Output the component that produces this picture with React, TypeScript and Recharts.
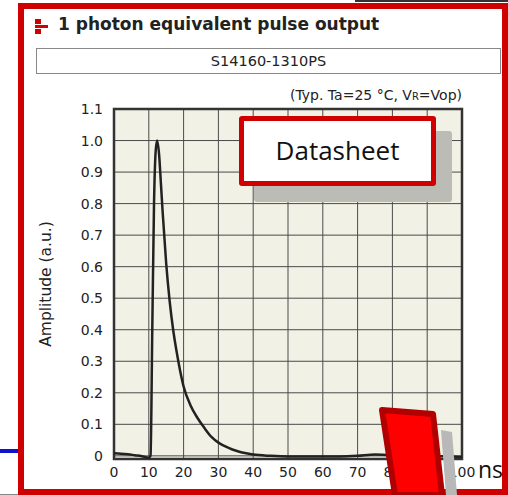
import React from "react";
import { LineChart, Line, XAxis, YAxis, CartesianGrid, ReferenceArea } from "recharts";

// pulse shape (ns, a.u.)
const timeNs = [0, 2, 4, 6, 8, 10, 10.5, 11, 11.5, 12, 12.4, 13, 13.5, 14, 15, 16, 17, 18, 19, 20, 22, 24, 26, 28, 30, 32, 34, 36, 38, 40, 45, 50, 60, 65, 70, 75, 80, 85, 90, 95, 100];
const amplitude = [0.008, 0.007, 0.005, 0.002, -0.001, -0.006, 0.0, 0.4, 0.8, 0.97, 1.0, 0.95, 0.86, 0.77, 0.61, 0.49, 0.4, 0.33, 0.27, 0.22, 0.16, 0.12, 0.088, 0.06, 0.042, 0.03, 0.02, 0.013, 0.008, 0.004, 0.0, -0.002, -0.002, -0.002, 0.0, 0.004, 0.002, -0.002, -0.002, -0.001, -0.004];
const xTicks = [0, 10, 20, 30, 40, 50, 60, 70, 80, 90, 100];
const yTicks = [0, 0.1, 0.2, 0.3, 0.4, 0.5, 0.6, 0.7, 0.8, 0.9, 1.0, 1.1];

const data = timeNs.map((t, i) => ({ t, a: amplitude[i] }));

const FONT = "'DejaVu Sans', Verdana, sans-serif";
const TICK = { fontSize: 14, fill: "#222", fontFamily: FONT };

export default function App() {
  return (
    <div style={{ position: "fixed", left: 0, top: 0, width: 508, height: 495, background: "#fff", overflow: "hidden", fontFamily: FONT }}>
      {/* outer red frame */}
      <div style={{ position: "absolute", left: 18, top: 3, width: 490, height: 492, border: "6px solid #d00000", boxSizing: "border-box" }} />
      <div style={{ position: "absolute", left: 355, top: 0, width: 153, height: 2, background: "#333" }} />
      <div style={{ position: "absolute", left: 0, top: 449, width: 18, height: 4, background: "#1010d0" }} />
      <div style={{ position: "absolute", left: 0, top: 494, width: 18, height: 1, background: "#888" }} />

      {/* title */}
      <svg style={{ position: "absolute", left: 35, top: 18 }} width={14} height={16}>
        <rect x={0} y={1} width={6} height={5} fill="#d00000" />
        <rect x={0} y={7} width={13} height={3} fill="#d00000" />
        <rect x={0} y={11} width={6} height={5} fill="#d00000" />
      </svg>
      <div style={{ position: "absolute", left: 58, top: 14, fontSize: 17, fontWeight: "bold", color: "#222", whiteSpace: "nowrap" }}>
        1 photon equivalent pulse output
      </div>
      <div style={{ position: "absolute", left: 36, top: 48, width: 465, height: 26, border: "1px solid #888", boxSizing: "border-box", textAlign: "center", fontSize: 14.5, lineHeight: "24px", color: "#222" }}>
        S14160-1310PS
      </div>
      <div style={{ position: "absolute", right: 46, top: 87, fontSize: 14, color: "#222", whiteSpace: "nowrap" }}>
        (Typ. Ta=25 °C, V<span style={{ fontSize: 10 }}>R</span>=Vop)
      </div>

      <div style={{ position: "absolute", left: 0, top: 0 }}>
        <LineChart width={508} height={495} data={data} margin={{ top: 109, right: 46, bottom: 6, left: 54 }}>
          <CartesianGrid stroke="#4a4a4a" strokeWidth={1} fill="#f2f1e5" horizontalValues={yTicks} verticalValues={xTicks} />
          <XAxis dataKey="t" type="number" domain={[0, 100]} ticks={xTicks} interval={0} height={30}
            axisLine={false} tickLine={false} tick={TICK} tickMargin={2} />
          <YAxis type="number" domain={[-0.01, 1.1]} ticks={yTicks} interval={0} width={60} allowDataOverflow
            axisLine={false} tickLine={false} tick={TICK} tickMargin={5}
            tickFormatter={(v: number) => (v === 0 ? "0" : v.toFixed(1))}
            label={{ value: "Amplitude (a.u.)", angle: -90, position: "insideLeft", offset: -9, style: { fontSize: 15.5, fill: "#222", fontFamily: FONT, textAnchor: "middle" } }} />
          <ReferenceArea x1={0} x2={100} y1={-0.01} y2={1.1} fill="none" stroke="#333" strokeWidth={2.5} ifOverflow="visible" />
          <Line type="monotone" dataKey="a" stroke="#222" strokeWidth={2.5} dot={false} isAnimationActive={false} />
        </LineChart>
      </div>

      <div style={{ position: "absolute", left: 478, top: 453, fontSize: 23, color: "#111", fontFamily: "'Open Sans', sans-serif" }}>ns</div>

      {/* Datasheet callout */}
      <div style={{ position: "absolute", left: 254, top: 131, width: 198, height: 71, background: "#bcbcb6", borderRadius: 3 }} />
      <div style={{ position: "absolute", left: 239, top: 116, width: 197, height: 70, border: "5px solid #d00000", borderRadius: 3, background: "#fff", boxSizing: "border-box", textAlign: "center", lineHeight: "58px", fontSize: 26, color: "#111", fontFamily: "'Open Sans', sans-serif" }}>
        Datasheet
      </div>

      {/* red arrow corner */}
      <svg style={{ position: "absolute", left: 0, top: 0 }} width={508} height={495}>
        <polygon points="441,430 452,432 457,495 446,495" fill="#b8b8b8" />
        <polygon points="382,410 433,414 442,495 395,495" fill="#ff0000" stroke="#b00000" strokeWidth={6} strokeLinejoin="round" />
      </svg>
    </div>
  );
}
